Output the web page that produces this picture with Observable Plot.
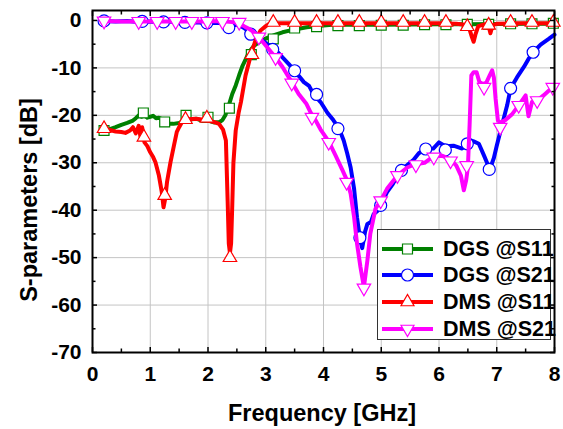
<!DOCTYPE html>
<html><head><meta charset="utf-8">
<script src="https://cdn.jsdelivr.net/npm/d3@7"></script>
<script src="https://cdn.jsdelivr.net/npm/@observablehq/plot@0.6"></script>
<style>
body{margin:0;background:#fff;}
#wrap{position:relative;width:563px;height:429px;font-family:"Liberation Sans",Arial,sans-serif;font-weight:bold;}
#legend{position:absolute;left:377px;top:229px;width:174px;height:111px;border:1px solid #333;background:#fff;box-sizing:border-box;}
.row{position:absolute;left:0;height:26px;width:172px;}
.row svg{position:absolute;left:3px;top:0;}
.row span{position:absolute;left:65px;top:1px;font-size:21.5px;line-height:24px;color:#000;white-space:nowrap;}
</style></head><body><div id="wrap"></div>
<script>
// ---- data ----
const xTicks = [0,1,2,3,4,5,6,7,8];
const xMinor = [0.5,1.5,2.5,3.5,4.5,5.5,6.5,7.5];
const yTicks = [-70,-60,-50,-40,-30,-20,-10,0];
const yMinor = [-65,-55,-45,-35,-25,-15,-5];
const seriesNames = ["DGS @S11","DGS @S21","DMS @S11","DMS @S21"];
const seriesColors = ["#008000","#0000ff","#ff0000","#ff00ff"];

// DGS @S11
const dgsS11F = [0.2,0.3,0.4,0.5,0.6,0.7,0.75,0.8,0.85,0.88,0.95,1.0,1.05,1.1,1.15,1.2,1.25,1.3,1.4,1.5,1.6,1.7,1.8,1.9,2.0,2.1,2.2,2.25,2.3,2.36,2.42,2.48,2.54,2.6,2.66,2.71,2.8,2.88,2.97,3.06,3.17,3.29,3.43,3.57,3.71,3.86,4.0,4.15,4.5,5.0,5.5,6.0,6.5,7.0,7.5,8.0];
const dgsS11V = [-23.2,-22.9,-22.5,-22,-21.6,-21.1,-20.6,-20,-20.3,-19.7,-20.5,-20.3,-20.1,-20.6,-20.5,-20.8,-21.2,-21.8,-21.8,-21.6,-21,-20.9,-20.7,-21.2,-21.1,-21.5,-21.4,-21,-20,-17.9,-15.5,-13.7,-11.5,-9.5,-8,-6.7,-5.3,-4.6,-4.0,-3.5,-3.0,-2.5,-2.1,-1.75,-1.45,-1.2,-1.05,-0.9,-0.9,-0.9,-0.85,-0.8,-0.8,-0.75,-0.7,-0.7];
const dgsS11MF = [0.2,0.88,1.25,1.62,2.0,2.37,2.75,3.13,3.5,3.88,4.25,4.62,5.0,5.38,5.75,6.12,6.49,6.86,7.24,7.61,7.98];
const dgsS11MV = [-23.2,-19.5,-21.4,-20.0,-20.4,-18.5,-7.2,-3.9,-1.6,-1.3,-1.1,-1.1,-1.0,-1.0,-0.9,-0.9,-0.8,-0.8,-0.7,-0.7,-0.6];

// DGS @S21
const dgsS21F = [0.2,0.4,0.6,0.8,1.0,1.2,1.4,1.6,1.8,2.0,2.2,2.36,2.48,2.6,2.77,2.94,3.06,3.17,3.29,3.4,3.5,3.66,3.75,3.83,3.95,4.07,4.17,4.27,4.35,4.41,4.47,4.53,4.58,4.63,4.67,4.72,4.76,4.82,4.87,4.93,4.99,5.1,5.2,5.33,5.45,5.55,5.65,5.77,5.9,6.0,6.11,6.25,6.4,6.5,6.55,6.6,6.69,6.78,6.88,6.95,7.0,7.09,7.18,7.24,7.35,7.47,7.55,7.63,7.76,7.9,8.0];
const dgsS21V = [-0.1,-0.2,-0.1,-0.3,-0.2,-0.3,-0.2,-0.5,-0.4,-0.6,-0.5,-1.2,-0.9,-1.4,-2.8,-4.2,-5.3,-6.2,-7.8,-9.2,-10.6,-13,-13.8,-15.6,-17.2,-19.5,-21,-22.8,-25.3,-28,-31,-35.5,-41.5,-45.8,-48,-44.5,-42.9,-42.5,-40.8,-40.2,-39,-36.2,-34.5,-31.6,-30.5,-29.5,-28,-27.1,-27,-25.7,-26.5,-26.4,-27,-26,-25.3,-25.5,-26,-28.5,-31.4,-29,-26.4,-22.1,-17.9,-14.3,-12,-9.8,-8.1,-6.7,-5.1,-3.9,-3.0];
const dgsS21MF = [0.2,0.86,1.23,1.6,1.98,2.36,2.74,3.12,3.5,3.88,4.25,4.63,4.99,5.35,5.77,6.11,6.49,6.87,7.24,7.63];
const dgsS21MV = [-0.1,-0.2,-0.3,-0.4,-0.5,-1.5,-2.9,-6.1,-10.6,-15.6,-22.8,-45.8,-39,-31.6,-27.1,-27.3,-26,-31.4,-14.3,-6.7];

// DMS @S11
const dmsS11F = [0.2,0.3,0.4,0.5,0.57,0.65,0.7,0.75,0.8,0.83,0.86,0.9,0.95,1.0,1.05,1.09,1.15,1.2,1.23,1.26,1.29,1.35,1.41,1.46,1.5,1.55,1.65,1.78,1.9,2.01,2.1,2.19,2.26,2.31,2.34,2.36,2.38,2.4,2.42,2.44,2.48,2.53,2.57,2.65,2.74,2.83,2.91,3.0,3.06,3.2,3.5,4.0,4.5,5.0,5.5,6.0,6.3,6.45,6.52,6.57,6.6,6.63,6.68,6.8,6.86,6.89,6.93,7.0,7.3,7.6,8.0];
const dmsS11V = [-22.8,-23.1,-23.4,-23.5,-23.7,-23.2,-22.5,-23.8,-22.2,-24.5,-22.5,-25.7,-26.5,-27.8,-28.8,-29.9,-32.7,-36.2,-39.4,-37.5,-34.1,-29.9,-26.4,-23.5,-22.5,-21.4,-20.8,-20.7,-20.9,-21.1,-21.4,-21.8,-23,-25.3,-38,-47,-49,-47,-39,-30,-23.2,-19.5,-17.2,-11.6,-7.4,-3.9,-2.1,-1.2,-0.7,-0.6,-0.6,-0.6,-0.6,-0.6,-0.6,-0.6,-0.7,-0.9,-1.5,-3.5,-4.5,-3,-1.2,-0.8,-1.2,-2.7,-1.0,-0.7,-0.6,-0.6,-0.6];
const dmsS11MF = [0.2,0.89,1.25,1.61,1.98,2.38,2.76,3.13,3.5,3.88,4.25,4.62,5.0,5.38,5.75,6.12,6.49,6.86,7.24,7.61,7.98];
const dmsS11MV = [-22.8,-24.6,-36.9,-20.9,-20.6,-50,-7.2,-0.4,-0.4,-0.4,-0.4,-0.4,-0.4,-0.4,-0.4,-0.4,-1.3,-1.0,-0.4,-0.4,-0.4];

// DMS @S21
const dmsS21F = [0.2,0.5,0.8,1.1,1.4,1.7,2.0,2.2,2.42,2.54,2.65,2.71,2.8,2.88,3.0,3.17,3.29,3.45,3.57,3.7,3.78,3.86,3.95,4.09,4.21,4.33,4.4,4.47,4.53,4.58,4.64,4.7,4.76,4.81,4.9,4.99,5.1,5.28,5.45,5.59,5.75,5.91,6.05,6.2,6.3,6.38,6.43,6.47,6.5,6.53,6.56,6.6,6.65,6.7,6.76,6.82,6.88,6.92,6.95,6.98,7.02,7.06,7.15,7.27,7.38,7.5,7.55,7.61,7.7,7.81,7.9,8.0];
const dmsS21V = [-0.1,-0.2,-0.2,-0.2,-0.2,-0.2,-0.2,-0.1,-0.35,-0.6,-1.4,-1.75,-2.5,-3.5,-5.3,-7.8,-9.8,-13,-15.5,-17.5,-19.5,-21,-23,-25.5,-28.5,-31.6,-33.5,-36.5,-41.5,-47,-52,-56.2,-50.6,-45,-39.7,-38,-35.5,-32.7,-31,-30.3,-30,-28.6,-28.5,-29.3,-30.6,-32.7,-35.8,-33.7,-31,-22,-11.6,-10.9,-10.9,-13,-13.4,-13.1,-11.5,-10.5,-12,-16.5,-21.1,-21.5,-21,-19.7,-17.9,-15.8,-20.2,-17.2,-16.9,-15.8,-14.8,-14];
const dmsS21MF = [0.2,0.8,1.12,1.44,1.72,1.99,2.25,2.54,2.88,3.17,3.45,3.8,4.09,4.4,4.7,4.99,5.28,5.6,5.91,6.2,6.48,6.78,7.06,7.38,7.7,7.97];
const dmsS21MV = [-0.1,-0.2,-0.2,-0.2,-0.2,-0.2,-0.2,-0.4,-3.5,-7.8,-13.2,-20.4,-25.7,-34.1,-56.4,-38,-32.7,-30.4,-28.8,-29.6,-30.6,-14.1,-22.5,-17.9,-16.9,-14.1];

// ---- build ----
const rows = (f, v) => f.map((x, i) => ({f: x, v: v[i]}));
const downTri = {draw(ctx, size) {
  const s = Math.sqrt(size * 4 / Math.sqrt(3)), h = s * Math.sqrt(3) / 2;
  ctx.moveTo(-s/2, -h/3); ctx.lineTo(s/2, -h/3); ctx.lineTo(0, 2*h/3); ctx.closePath();
}};
const upTri = {draw(ctx, size) {
  const s = Math.sqrt(size * 4 / Math.sqrt(3)), h = s * Math.sqrt(3) / 2;
  ctx.moveTo(-s/2, h/3); ctx.lineTo(s/2, h/3); ctx.lineTo(0, -2*h/3); ctx.closePath();
}};
const series = [
  {line: rows(dgsS11F, dgsS11V), mk: rows(dgsS11MF, dgsS11MV), symbol: "square", r: 5.6},
  {line: rows(dgsS21F, dgsS21V), mk: rows(dgsS21MF, dgsS21MV), symbol: "circle", r: 6},
  {line: rows(dmsS11F, dmsS11V), mk: rows(dmsS11MF, dmsS11MV), symbol: upTri, r: 5},
  {line: rows(dmsS21F, dmsS21V), mk: rows(dmsS21MF, dmsS21MV), symbol: downTri, r: 5}
];

const marks = [
  Plot.gridX(xTicks.slice(1, -1), {stroke: "#c4c4c4", strokeOpacity: 1, strokeWidth: 1}),
  Plot.gridY(yTicks.slice(1), {stroke: "#c4c4c4", strokeOpacity: 1, strokeWidth: 1})
];
series.forEach((s, i) => {
  marks.push(Plot.line(s.line, {x: "f", y: "v", stroke: seriesColors[i], strokeWidth: 4, strokeLinejoin: "round"}));
  marks.push(Plot.dot(s.mk, {x: "f", y: "v", symbol: () => s.symbol, r: s.r, stroke: seriesColors[i], fill: "white", strokeWidth: 1.2}));
});
marks.push(
  Plot.frame({stroke: "#000", strokeWidth: 2}),
  Plot.axisX({ticks: xTicks, tickSize: 0, tickPadding: 14, fontSize: 21, fontWeight: "bold", label: null, tickFormat: d => String(d)}),
  Plot.axisX({anchor: "bottom", ticks: xTicks, tickSize: -5, fill: "none", stroke: "#000", strokeWidth: 1.5, label: null}),
  Plot.axisX({anchor: "bottom", ticks: xMinor, tickSize: -3.5, fill: "none", stroke: "#000", strokeWidth: 1.5, label: null}),
  Plot.axisX({anchor: "top", ticks: xTicks, tickSize: -5, fill: "none", stroke: "#000", strokeWidth: 1.5, label: null}),
  Plot.axisX({anchor: "top", ticks: xMinor, tickSize: -3.5, fill: "none", stroke: "#000", strokeWidth: 1.5, label: null}),
  Plot.axisY({ticks: yTicks, tickSize: 0, tickPadding: 11, fontSize: 21, fontWeight: "bold", label: null, tickFormat: d => String(d)}),
  Plot.axisY({anchor: "left", ticks: yTicks, tickSize: -5, fill: "none", stroke: "#000", strokeWidth: 1.5, label: null}),
  Plot.axisY({anchor: "left", ticks: yMinor, tickSize: -3.5, fill: "none", stroke: "#000", strokeWidth: 1.5, label: null}),
  Plot.axisY({anchor: "right", ticks: yTicks, tickSize: -5, fill: "none", stroke: "#000", strokeWidth: 1.5, label: null}),
  Plot.axisY({anchor: "right", ticks: yMinor, tickSize: -3.5, fill: "none", stroke: "#000", strokeWidth: 1.5, label: null})
);

const chart = Plot.plot({
  width: 563, height: 429,
  marginLeft: 92, marginRight: 9, marginTop: 10, marginBottom: 77,
  x: {domain: [0, 8]},
  y: {domain: [-70, 2.1]},
  style: {fontFamily: '"Liberation Sans", Arial, sans-serif', fontWeight: "bold", color: "#000", background: "#fff", overflow: "visible"},
  marks
});
const wrap = document.getElementById("wrap");
wrap.appendChild(chart);

// axis titles
const svg = d3.select(chart);
svg.append("text").attr("transform", "translate(29,200) rotate(-90)")
  .attr("text-anchor", "middle").attr("dy", "0.35em")
  .style("font-size", "23.5px").style("font-weight", "bold").attr("fill", "#000")
  .text("S-parameters [dB]");
svg.append("text").attr("x", 322).attr("y", 421)
  .attr("text-anchor", "middle")
  .style("font-size", "23.5px").style("font-weight", "bold").attr("fill", "#000")
  .text("Frequency [GHz]");

// legend
const legend = document.createElement("div");
legend.id = "legend";
const rowTops = [6, 32, 59, 86];
const symPath = [
  "M-5,-5h10v10h-10z",
  "M6,0A6,6 0 1,1 -6,0A6,6 0 1,1 6,0z",
  "M-6.5,3.75L6.5,3.75L0,-7.5z",
  "M-6.5,-3.75L6.5,-3.75L0,7.5z"
];
seriesNames.forEach((name, i) => {
  const row = document.createElement("div");
  row.className = "row";
  row.style.top = rowTops[i] + "px";
  row.innerHTML = `<svg width="56" height="26"><line x1="1" x2="52" y1="13" y2="13" stroke="${seriesColors[i]}" stroke-width="4"/>` +
    `<path transform="translate(26.5,13)" d="${symPath[i]}" fill="white" stroke="${seriesColors[i]}" stroke-width="1.2"/></svg>` +
    `<span>${name}</span>`;
  legend.appendChild(row);
});
wrap.appendChild(legend);
</script>
</body></html>
